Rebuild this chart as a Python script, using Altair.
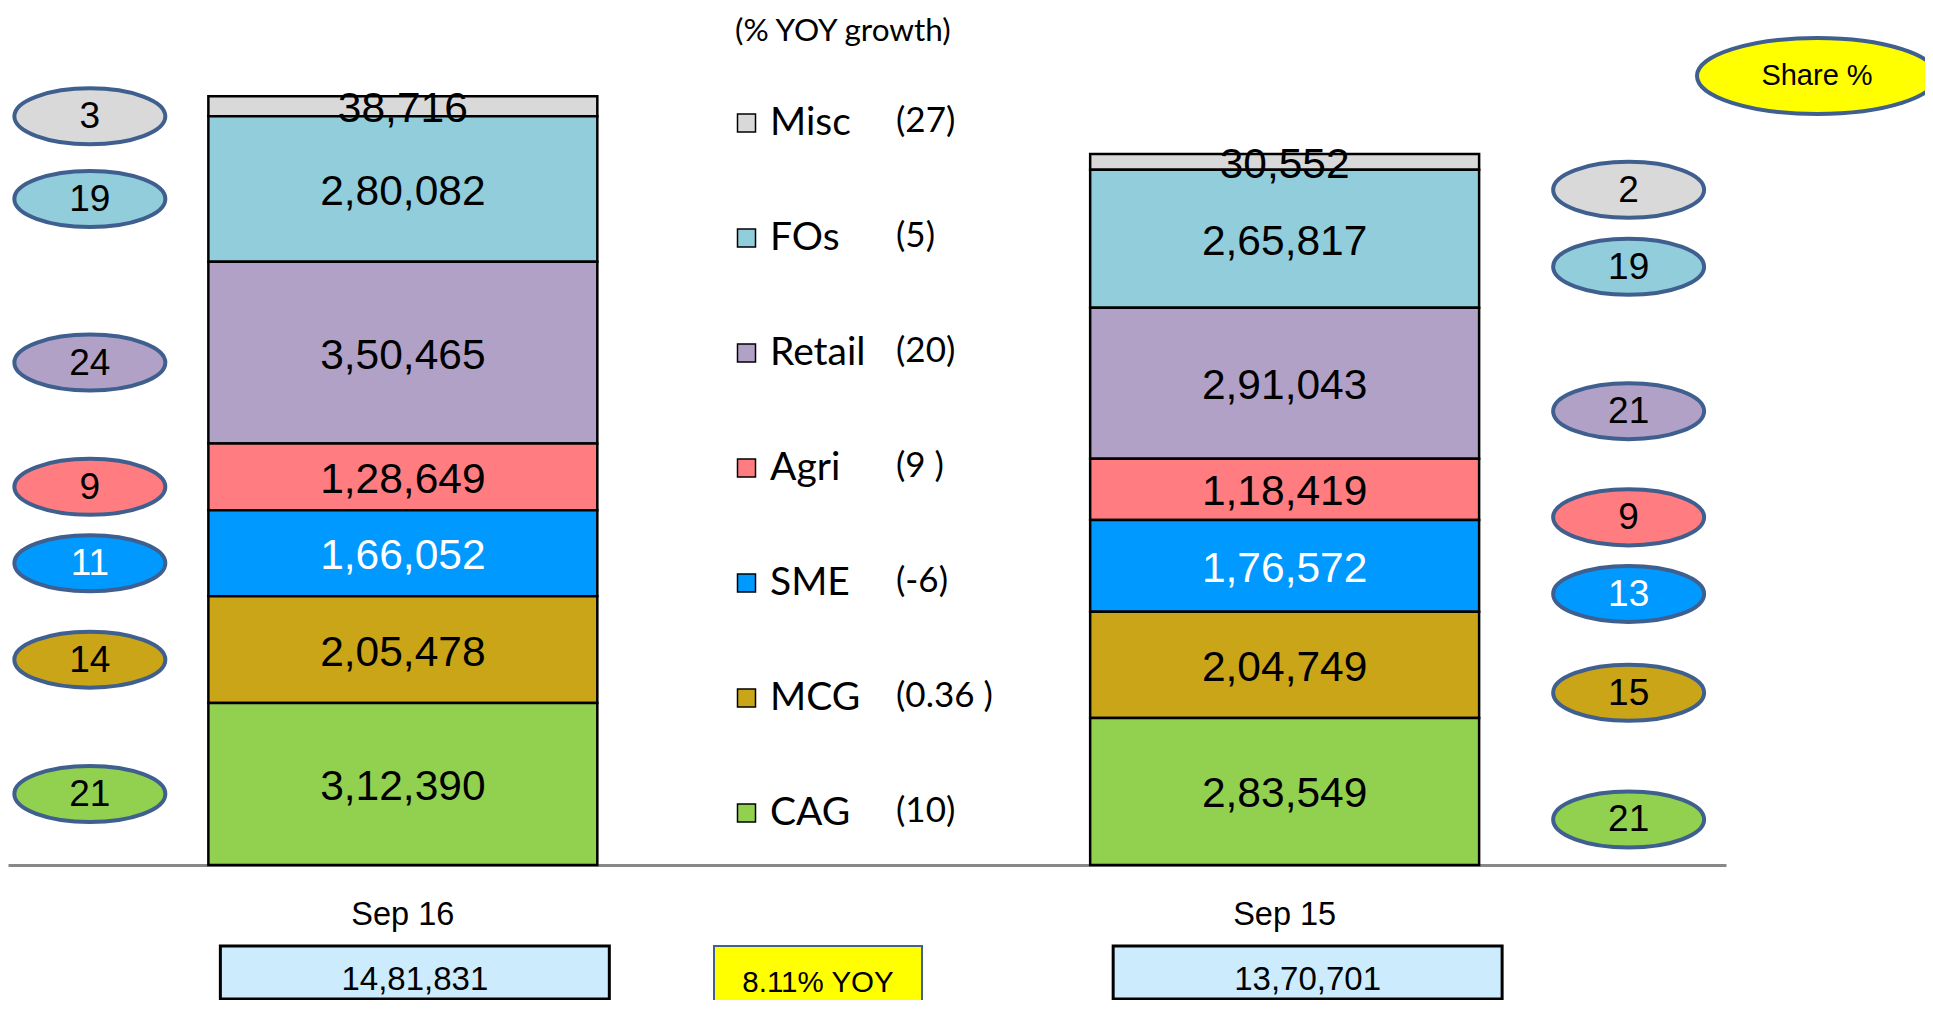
import altair as alt
import pandas as pd

# ---------------- data ----------------
periods = ["Sep 16", "Sep 15"]
segments = ["Misc", "FOs", "Retail", "Agri", "SME", "MCG", "CAG"]
colors = ["#D9D9D9", "#92CDDC", "#B2A1C7", "#FF7C80", "#0099FF", "#C9A517", "#92D050"]
sep16_values = [38716, 280082, 350465, 128649, 166052, 205478, 312390]
sep15_values = [30552, 265817, 291043, 118419, 176572, 204749, 283549]
sep16_share = [3, 19, 24, 9, 11, 14, 21]
sep15_share = [2, 19, 21, 9, 13, 15, 21]
growth = ["(27)", "(5)", "(20)", "(9 )", "(-6)", "(0.36 )", "(10)"]
totals = [1481831, 1370701]

rows = []
for p, vals, shares in zip(periods, [sep16_values, sep15_values], [sep16_share, sep15_share]):
    for i, (s, v, sh) in enumerate(zip(segments, vals, shares)):
        rows.append({"period": p, "segment": s, "value": v, "share": sh,
                     "rank": len(segments) - 1 - i})
df = pd.DataFrame(rows)
totals_df = pd.DataFrame({"period": periods, "total": totals})
yoy_df = pd.DataFrame({"label": [f"{(totals[0] / totals[1] - 1) * 100:.2f}% YOY"]})
share_df = pd.DataFrame({"label": ["Share %"]})
growth_df = pd.DataFrame({"growth": growth})

# ---------------- styling / layout ----------------
W, H = 1718, 857
ARIAL = "Liberation Sans"
CALIBRI = "Lato"
OUTLINE = "#3F5F8F"
ELLIPSE = "M -1 0 A 1 0.371 0 1 0 1 0 A 1 0.371 0 1 0 -1 0 Z"
ELLIPSE_WIDE = "M -1 0 A 1 0.316 0 1 0 1 0 A 1 0.316 0 1 0 -1 0 Z"

xscale = alt.Scale(domain=periods, paddingInner=0.5589, paddingOuter=0.2536, align=0.448)
yscale = alt.Scale(domain=[0, 1652000], nice=False, zero=True)

X = alt.X("period:N", scale=xscale,
          axis=alt.Axis(title=None, orient="bottom", domainColor="#888888", domainWidth=3,
                        ticks=False, tickSize=0, labelFont=ARIAL, labelFontSize=32.5,
                        labelColor="black", labelPadding=33, labelAngle=0, grid=False))

base = alt.Chart(df).transform_stack(
    stack="value", groupby=["period"], as_=["v0", "v1"],
    sort=[alt.SortField("rank", order="ascending")]
).transform_calculate(mid="(datum.v0 + datum.v1) / 2")

color_legend = alt.Legend(
    orient="none", legendX=727, legendY=8, direction="vertical",
    title="(% YOY growth)", titleFont=CALIBRI, titleFontSize=31.5, titleFontWeight="normal",
    titleColor="black", titlePadding=56, titleLimit=500,
    labelFont=CALIBRI, labelFontSize=39, labelColor="black", labelLimit=500,
    labelOffset=4,
    symbolType="square", symbolSize=324, symbolStrokeColor="black", symbolStrokeWidth=1.5,
    symbolOffset={"expr": "-8"}, symbolOpacity=1, rowPadding=75, padding=0, offset=0,
)

bars = base.mark_bar(stroke="black", strokeWidth=2.5).encode(
    x=X,
    y=alt.Y("v0:Q", scale=yscale, axis=None),
    y2="v1:Q",
    color=alt.Color("segment:N", scale=alt.Scale(domain=segments, range=colors),
                    legend=color_legend),
)

text_color = alt.condition(alt.datum.segment == "SME", alt.value("white"), alt.value("black"))

bar_labels = base.mark_text(font=ARIAL, fontSize=42.5, baseline="middle", dy=3).encode(
    x=X,
    y=alt.Y("mid:Q", scale=yscale, axis=None),
    text=alt.Text("value:Q", format=",d"),
    color=text_color,
)

layers = [bars, bar_labels]

# share ellipses beside each bar
for p, xoff, yoff in [("Sep 16", -313, 10), ("Sep 15", 344, 28)]:
    sub = base.transform_filter(alt.datum.period == p)
    layers.append(sub.mark_point(shape=ELLIPSE, size=22801, filled=True, opacity=1,
                                 stroke=OUTLINE, strokeWidth=4,
                                 xOffset=xoff, yOffset=yoff).encode(
        x=X,
        y=alt.Y("mid:Q", scale=yscale, axis=None),
        fill=alt.Fill("segment:N", scale=alt.Scale(domain=segments, range=colors), legend=None),
    ))
    layers.append(sub.mark_text(font=ARIAL, fontSize=37, baseline="middle",
                                xOffset=xoff, yOffset=yoff, dy=1).encode(
        x=X,
        y=alt.Y("mid:Q", scale=yscale, axis=None),
        text=alt.Text("share:Q"),
        color=text_color,
    ))

# growth column of the legend
growth_layer = alt.Chart(growth_df).mark_point(opacity=0).encode(
    shape=alt.Shape("growth:N", scale=alt.Scale(domain=growth),
                    legend=alt.Legend(
                        orient="none", legendX=853, legendY=95, direction="vertical",
                        title=None,
                        labelFont=CALIBRI, labelFontSize=35, labelColor="black", labelLimit=500,
                        labelOffset=0, symbolSize=0, symbolOpacity=0, symbolStrokeWidth=0,
                        rowPadding=79, padding=0, offset=0))
)
layers.append(growth_layer)

# total boxes under bars
for p, xoff in [("Sep 16", 12), ("Sep 15", 23)]:
    sub = alt.Chart(totals_df).transform_filter(alt.datum.period == p)
    layers.append(sub.mark_rect(fill="#CCEBFC", stroke="black", strokeWidth=3, xOffset=xoff).encode(
        x=X, y=alt.value(938), y2=alt.value(991)))
    layers.append(sub.mark_text(font=ARIAL, fontSize=33, baseline="middle", xOffset=xoff).encode(
        x=X, y=alt.value(972), text=alt.Text("total:Q", format=",d")))

# YOY box
layers.append(alt.Chart(yoy_df).mark_rect(fill="#FFFF00", stroke="#41628F", strokeWidth=2).encode(
    x=alt.value(706), x2=alt.value(914), y=alt.value(938), y2=alt.value(1000)))
layers.append(alt.Chart(yoy_df).mark_text(font=ARIAL, fontSize=29.5, baseline="middle").encode(
    x=alt.value(810), y=alt.value(975), text="label:N"))

# Share % badge
layers.append(alt.Chart(share_df).mark_point(shape=ELLIPSE_WIDE, size=57600, filled=True,
                                             fill="#FFFF00", stroke=OUTLINE, strokeWidth=4,
                                             opacity=1).encode(
    x=alt.value(1809), y=alt.value(68)))
layers.append(alt.Chart(share_df).mark_text(font=ARIAL, fontSize=29, baseline="middle").encode(
    x=alt.value(1809), y=alt.value(68), text="label:N"))

chart = alt.layer(*layers).properties(
    width=W, height=H,
    autosize=alt.AutoSizeParams(type="none"),
    padding={"left": 0, "top": 0, "right": 199, "bottom": 135},
).configure(
    locale={"number": {"decimal": ".", "thousands": ",", "grouping": [3, 2],
                       "currency": ["\u20b9", ""]}}
).configure_view(stroke=None)

chart.save("out.html", embed_options={"renderer": "svg", "actions": False})
